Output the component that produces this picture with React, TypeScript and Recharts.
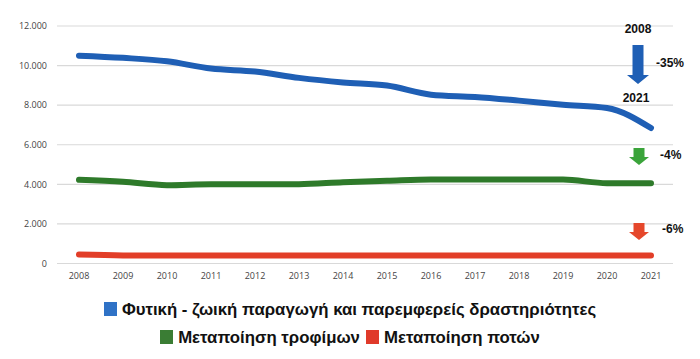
import React from "react";
import { LineChart, Line, XAxis, YAxis, CartesianGrid } from "recharts";

const years = ["2008","2009","2010","2011","2012","2013","2014","2015","2016","2017","2018","2019","2020","2021"];
const plantAnimal = [10500, 10390, 10220, 9850, 9700, 9380, 9150, 8990, 8530, 8415, 8230, 8025, 7860, 6845];
const foodProcessing = [4228, 4127, 3960, 4010, 4010, 4010, 4110, 4177, 4240, 4240, 4240, 4240, 4060, 4060];
const beverageProcessing = [455, 410, 400, 400, 400, 400, 400, 400, 400, 400, 400, 400, 400, 400];
const yTicks = [0, 2000, 4000, 6000, 8000, 10000, 12000];
const seriesNames = [
  "Φυτική - ζωική παραγωγή και παρεμφερείς δραστηριότητες",
  "Μεταποίηση τροφίμων",
  "Μεταποίηση ποτών",
];
const changeLabels = ["-35%", "-4%", "-6%"];

const data = years.map((y, i) => ({
  year: y,
  a: plantAnimal[i],
  b: foodProcessing[i],
  c: beverageProcessing[i],
}));

const BLUE = "#1f5fb5";
const GREEN = "#2e7a2a";
const RED = "#e23e28";

const fmt = (v: number) => (v === 0 ? "0" : v.toLocaleString("de-DE"));

function Arrow({ cx, top, headStart, tip, shaft, head, color }: any) {
  const pts = [
    [cx - shaft / 2, top],
    [cx + shaft / 2, top],
    [cx + shaft / 2, headStart],
    [cx + head / 2, headStart],
    [cx, tip],
    [cx - head / 2, headStart],
    [cx - shaft / 2, headStart],
  ]
    .map((p) => p.join(","))
    .join(" ");
  return <polygon points={pts} fill={color} />;
}

const annFont = { fontFamily: "'Liberation Sans Narrow', 'Liberation Sans', sans-serif", fontWeight: 700, fontSize: 12, fill: "#111" };

export default function App() {
  return (
    <div style={{ position: "relative", width: 700, height: 359, margin: -8, background: "#fff" }}>
      <LineChart width={700} height={359} data={data} margin={{ top: 26, right: 27, left: 0, bottom: 65.5 }}>
        <CartesianGrid vertical={false} stroke="#d9d9d9" strokeWidth={1.2} />
        <XAxis
          dataKey="year"
          axisLine={false}
          tickLine={false}
          tickSize={0}
          tickMargin={9}
          height={30}
          padding={{ left: 22, right: 22 }}
          interval={0}
          tick={{ fontSize: 9, fill: "#444", fontFamily: "'Open Sans', sans-serif" }}
        />
        <YAxis
          domain={[0, 12000]}
          ticks={yTicks}
          axisLine={false}
          tickLine={false}
          tickSize={0}
          tickMargin={10}
          width={57}
          tickFormatter={fmt}
          tick={{ fontSize: 9, fill: "#444", fontFamily: "'Open Sans', sans-serif" }}
        />
        <Line type="monotone" dataKey="a" stroke={BLUE} strokeWidth={6} dot={false} strokeLinecap="round" isAnimationActive={false} />
        <Line type="monotone" dataKey="b" stroke={GREEN} strokeWidth={6} dot={false} strokeLinecap="round" isAnimationActive={false} />
        <Line type="monotone" dataKey="c" stroke={RED} strokeWidth={6} dot={false} strokeLinecap="round" isAnimationActive={false} />
      </LineChart>
      <svg width={700} height={359} style={{ position: "absolute", left: 0, top: 0, pointerEvents: "none" }}>
        <text x={638} y={29} textAnchor="middle" dominantBaseline="central" {...annFont}>{years[0]}</text>
        <Arrow cx={638} top={45} headStart={75} tip={84} shaft={11} head={22} color={BLUE} />
        <text x={656} y={63} dominantBaseline="central" {...annFont}>{changeLabels[0]}</text>
        <text x={636} y={98} textAnchor="middle" dominantBaseline="central" {...annFont}>{years[13]}</text>
        <Arrow cx={639} top={148} headStart={157} tip={165} shaft={11} head={20} color="#3aa43a" />
        <text x={660} y={155} dominantBaseline="central" {...annFont}>{changeLabels[1]}</text>
        <Arrow cx={639} top={223} headStart={232} tip={240} shaft={11} head={20} color="#e5472b" />
        <text x={662} y={229} dominantBaseline="central" {...annFont}>{changeLabels[2]}</text>
      </svg>
      <div
        style={{
          position: "absolute",
          left: 0,
          top: 296,
          width: 700,
          textAlign: "center",
          fontFamily: "'Liberation Sans Narrow', 'Liberation Sans', sans-serif",
          fontWeight: 700,
          fontSize: 16.8,
          color: "#111",
          lineHeight: "28px",
        }}
      >
        <div>
          <span style={{ display: "inline-block", width: 13, height: 14, background: "#2f72c6", marginRight: 5, verticalAlign: -1 }} />
          {seriesNames[0]}
        </div>
        <div>
          <span style={{ display: "inline-block", width: 13, height: 14, background: "#3a7d34", marginRight: 5, verticalAlign: -1 }} />
          {seriesNames[1]}
          <span style={{ display: "inline-block", width: 13, height: 14, background: "#e03a2a", marginLeft: 6, marginRight: 5, verticalAlign: -1 }} />
          {seriesNames[2]}
        </div>
      </div>
    </div>
  );
}
